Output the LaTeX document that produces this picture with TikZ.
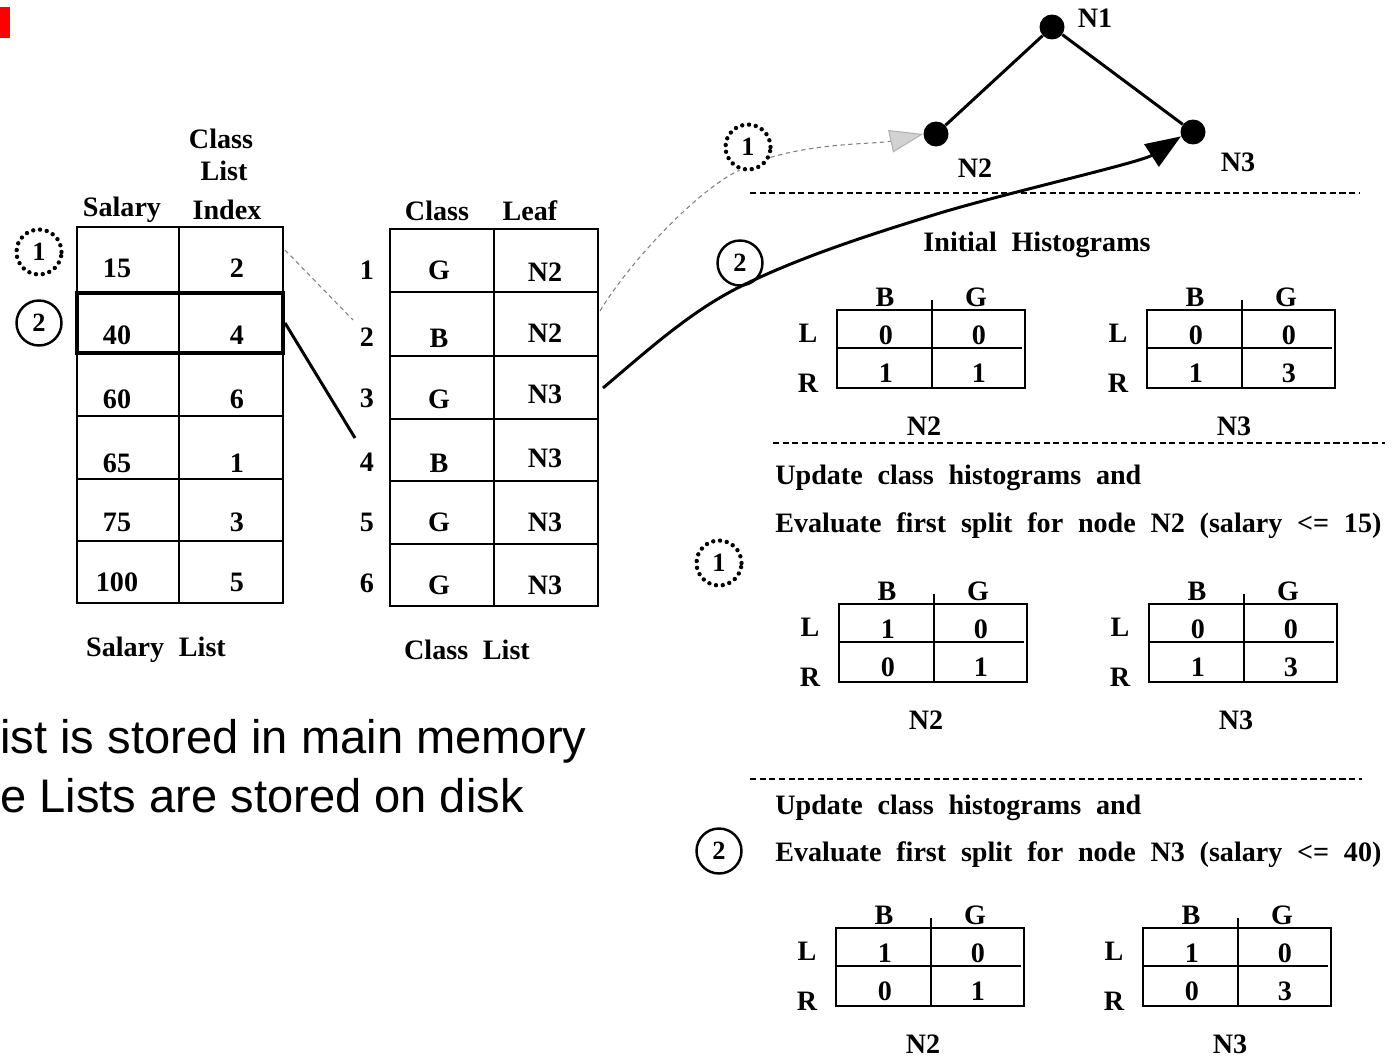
\documentclass[tikz,border=0pt]{standalone}
\usepackage{fontspec}
\setmainfont{Liberation Serif}[WordSpace=2.1]
\newfontfamily\slidefont{Liberation Sans}
\usetikzlibrary{positioning,arrows.meta}

\tikzset{
	txt/.style={font=\fontsize{16}{19}\selectfont\bfseries, inner sep=0pt},
	slide/.style={font=\slidefont\fontsize{26.8}{32}\selectfont, inner sep=0pt, anchor=base west},
	tabline/.style={line width=0.8pt},
	stepmark/.style={circle, draw, line width=1.4pt, minimum size=0.9cm, inner sep=0pt, font=\fontsize{15}{18}\selectfont\bfseries},
	stepdots/.style={stepmark, line width=2.5pt, line cap=round, dash pattern=on 0pt off 3.9pt},
	leaf/.style={circle, fill=black, minimum size=0.5cm, inner sep=0pt},
	edge/.style={line width=1.7pt},
	faint/.style={gray, line width=0.6pt, dash pattern=on 2.5pt off 2pt},
	sep/.style={line width=0.6pt, dash pattern=on 3.5pt off 2pt},
}

% histogram: name, left, top, LB, LG, RB, RG, node
\newcommand{\histo}[8]{%
	\draw[tabline] (#2,#3) rectangle ({#2+188},{#3+78});
	\draw[tabline] ({#2+95},{#3-10}) -- ({#2+95},{#3+78});
	\draw[tabline] (#2,{#3+38}) -- ({#2+185},{#3+38});
	\node[txt] (#1-B) at ({#2+48},{#3-13}) {B};
	\node[txt] (#1-G) at ({#2+139},{#3-13}) {G};
	\node[txt] (#1-L) at ({#2-29},{#3+23}) {L};
	\node[txt] (#1-R) at ({#2-29},{#3+73}) {R};
	\node[txt] (#1-LB) at ({#2+49},{#3+25}) {#4};
	\node[txt] (#1-LG) at ({#2+142},{#3+25}) {#5};
	\node[txt] (#1-RB) at ({#2+49},{#3+63}) {#6};
	\node[txt] (#1-RG) at ({#2+142},{#3+63}) {#7};
	\node[txt] (#1-N) at ({#2+87},{#3+116}) {#8};
}

\begin{document}
\begin{tikzpicture}[x=0.02cm,y=-0.02cm]
	\fill[white] (0,0) rectangle (1395,1058);
	\useasboundingbox (0,0) rectangle (1395,1058);
	\fill[red] (0,7) rectangle (10,38);

	% salary list
	\node[txt] (hclass) at (221,139) {Class};
	\node[txt] (hlist) at (224,171) {List};
	\node[txt] (hsal) at (122,210) {Salary};
	\node[txt] (hidx) at (227,210) {Index};
	\draw[tabline] (77,227) rectangle (283,603);
	\draw[tabline] (179,227) -- (179,603);
	\foreach \y in {293,353,416,479,541}
		\draw[tabline] (77,\y) -- (283,\y);
	\foreach \s/\i/\y in {15/2/268, 40/4/335, 60/6/399, 65/1/463, 75/3/522, 100/5/582} {
		\node[txt] (sal\s) at (117,\y) {\s};
		\node[txt] (idx\s) at (237,\y) {\i};
	}
	\node[draw, line width=2.3pt, minimum width=4.12cm, minimum height=1.2cm, inner sep=0pt] (sel) at (180,323) {};
	\node[stepdots] (a1) at (39,252) {1};
	\node[stepmark] (a2) at (39,323) {2};
	\node[txt] (sallist) at (156,650) {Salary List};

	% class list
	\node[txt] (hcls) at (437,211) {Class};
	\node[txt] (hleaf) at (530,211) {Leaf};
	\draw[tabline] (390,229) rectangle (598,606);
	\draw[tabline] (494,229) -- (494,606);
	\foreach \y in {292,356,419,481,544}
		\draw[tabline] (390,\y) -- (598,\y);
	\foreach \n/\c/\l/\y/\yc/\yl in {1/G/N2/270/270/272, 2/B/N2/337/338/333, 3/G/N3/398/399/394, 4/B/N3/462/463/458, 5/G/N3/522/522/522, 6/G/N3/583/585/585} {
		\node[txt] (row\n) at (367,\y) {\n};
		\node[txt] (cls\n) at (439,\yc) {\c};
		\node[txt] (lf\n) at (545,\yl) {\l};
	}
	\node[txt] (clslist) at (467,650) {Class List};

	% links between lists
	\coordinate (idx15r) at (285,250);
	\coordinate (row2in) at (353,320);
	\coordinate (row4in) at (355,438);
	\draw[faint] (idx15r) -- (row2in);
	\draw[edge] (sel.east) -- (row4in);

	% tree
	\node[leaf] (N1) at (1052,27) {};
	\node[leaf] (N2) at (936,134) {};
	\node[leaf] (N3) at (1193,132) {};
	\node[txt] (tN1) at (1095,18) {N1};
	\node[txt] (tN2) at (975,168) {N2};
	\node[txt] (tN3) at (1238,162) {N3};
	\draw[edge] (N1) -- (N2);
	\draw[edge] (N1) -- (N3);

	% steps
	\node[stepdots] (s1) at (748,147) {1};
	\node[stepmark] (s2) at (740,263) {2};
	\coordinate (leaf2) at (600,311);
	\coordinate (leaf3) at (603,388);
	\coordinate (flowmid) at (940,213);
	\draw[faint] (leaf2) .. controls +(30,-50) and +(-40,18) .. (s1.250);
	\draw[faint, -{Triangle[length=19pt,width=13pt,fill=gray!35,color=gray!60]}]
		(s1.-25) .. controls +(50,-15) and +(-45,10) .. (N2.west);
	\draw[edge, -{Triangle[length=20pt,width=15pt]}]
		(leaf3) .. controls +(45,-38) and +(-50,25) .. (s2.south)
		.. controls +(60,-30) and +(-65,20) .. (flowmid)
		.. controls +(70,-21) and +(-40,26) .. (N3.200);

	% histograms
	\draw[sep] (750,193) -- (1360,193);
	\node[txt] (hini) at (1037,245) {Initial Histograms};
	\histo{iniA}{837}{310}{0}{0}{1}{1}{N2}
	\histo{iniB}{1147}{310}{0}{0}{1}{3}{N3}
	\draw[sep] (773,443) -- (1385,443);

	\node[txt, anchor=west] (upd1) at (775,478) {Update class histograms and};
	\node[txt, anchor=west] (eval1) at (775,526) {Evaluate first split for node N2 (salary <= 15)};
	\node[stepdots] (b1) at (719,563) {1};
	\histo{upA}{839}{604}{1}{0}{0}{1}{N2}
	\histo{upB}{1149}{604}{0}{0}{1}{3}{N3}
	\draw[sep] (750,779) -- (1362,779);

	\node[txt, anchor=west] (upd2) at (775,808) {Update class histograms and};
	\node[txt, anchor=west] (eval2) at (775,855) {Evaluate first split for node N3 (salary <= 40)};
	\node[stepmark] (b2) at (719,851) {2};
	\histo{fixA}{836}{928}{1}{0}{0}{1}{N2}
	\histo{fixB}{1143}{928}{1}{0}{0}{3}{N3}

	% slide text
	\node[slide] (mem) at (0,753) {ist is stored in main memory};
	\node[slide] (disk) at (0,812) {e Lists are stored on disk};
\end{tikzpicture}
\end{document}
